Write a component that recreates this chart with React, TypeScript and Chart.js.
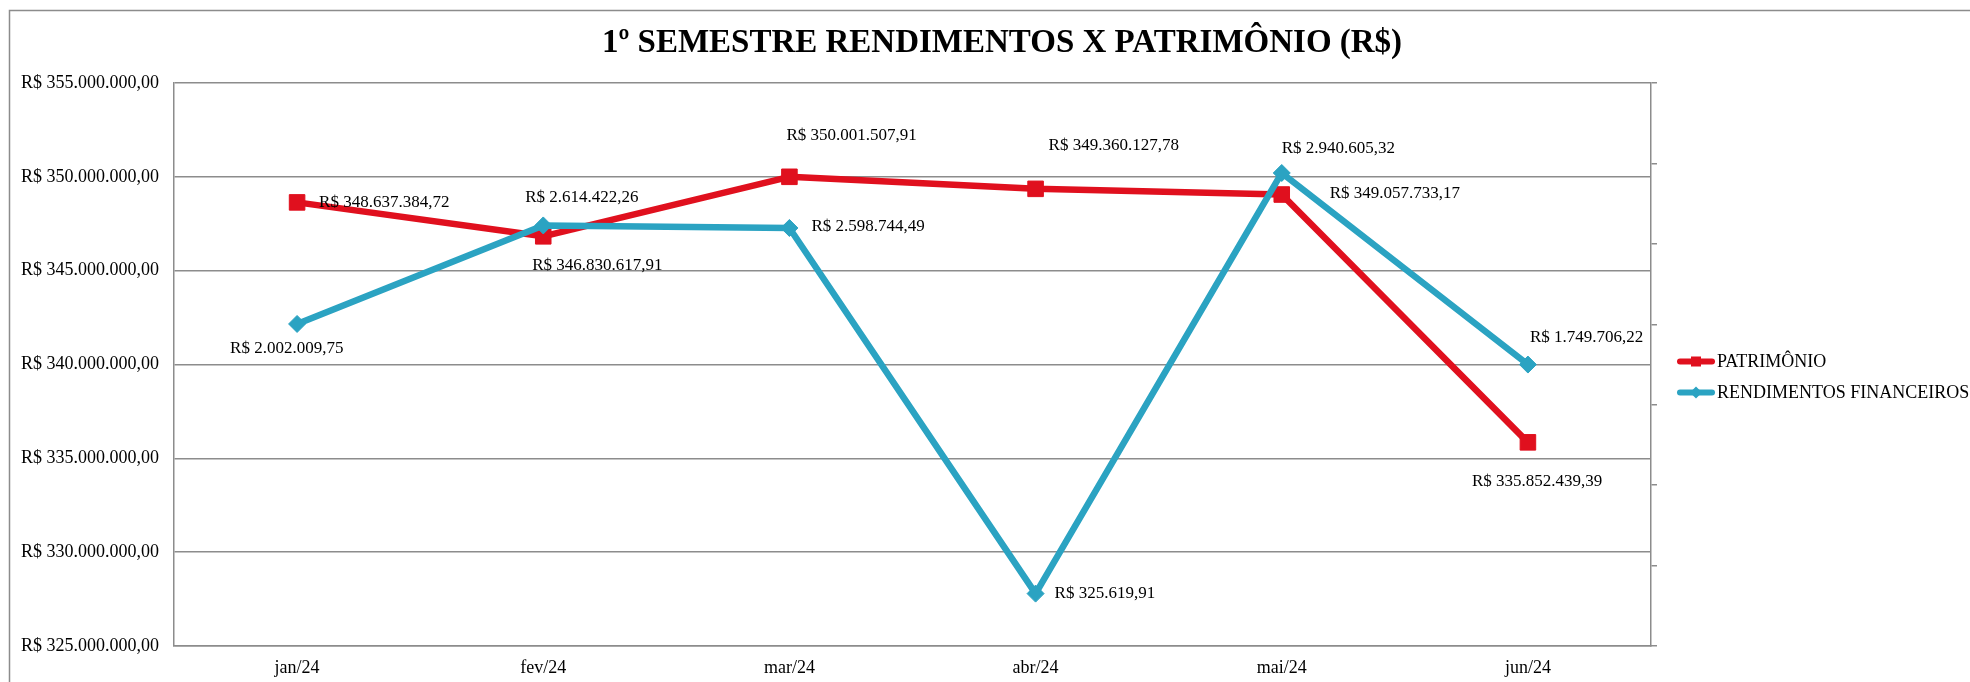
import React, { useEffect, useRef } from 'react';
import { Chart, registerables } from 'chart.js';

Chart.register(...registerables);

const categories = ['jan/24', 'fev/24', 'mar/24', 'abr/24', 'mai/24', 'jun/24'];
const patrimonio = [348637384.72, 346830617.91, 350001507.91, 349360127.78, 349057733.17, 335852439.39];
const rendimentos = [2002009.75, 2614422.26, 2598744.49, 325619.91, 2940605.32, 1749706.22];
const leftTicks = [325000000, 330000000, 335000000, 340000000, 345000000, 350000000, 355000000];
const rightTicks = [0, 500000, 1000000, 1500000, 2000000, 2500000, 3000000, 3500000];
const seriesNames = ['PATRIMÔNIO', 'RENDIMENTOS FINANCEIROS'];
const titleText = '1º SEMESTRE RENDIMENTOS X PATRIMÔNIO (R$)';

// label placement relative to each point: [dx to text left edge, dy to text middle]
const patrimonioLabelOffsets = [[22, 0], [-11, 29], [-3, -41], [13, -43], [48, -1], [-56, 39]];
const rendimentosLabelOffsets = [[-67, 25], [-18, -28], [22, -1], [19, 0], [0, -24], [2, -27]];

const RED = '#E0101E';
const BLUE = '#2BA3C2';
const GRID = '#8c8c8c';
const SERIF = '"Liberation Serif", "Times New Roman", serif';

function brl(v: number): string {
  const fixed = Math.abs(v).toFixed(2);
  const [intPart, dec] = fixed.split('.');
  const withDots = intPart.replace(/\B(?=(\d{3})+(?!\d))/g, '.');
  return 'R$ ' + (v < 0 ? '-' : '') + withDots + ',' + dec;
}

const framePlugin = {
  id: 'frameTitle',
  beforeDraw(chart: any) {
    const ctx = chart.ctx;
    ctx.save();
    ctx.fillStyle = '#ffffff';
    ctx.fillRect(0, 0, chart.width, chart.height);
    ctx.strokeStyle = GRID;
    ctx.lineWidth = 1.5;
    ctx.beginPath();
    ctx.moveTo(9.5, chart.height);
    ctx.lineTo(9.5, 10.5);
    ctx.lineTo(chart.width, 10.5);
    ctx.stroke();
    ctx.fillStyle = '#000';
    ctx.font = 'bold 33px ' + SERIF;
    ctx.textAlign = 'center';
    ctx.textBaseline = 'alphabetic';
    ctx.fillText(titleText, 1002, 52);
    ctx.restore();
  },
};

const labelsPlugin = {
  id: 'pointLabels',
  afterDatasetsDraw(chart: any) {
    const ctx = chart.ctx;
    const offsets = [patrimonioLabelOffsets, rendimentosLabelOffsets];
    ctx.save();
    ctx.font = '17px ' + SERIF;
    ctx.fillStyle = '#000';
    ctx.textAlign = 'left';
    ctx.textBaseline = 'middle';
    chart.data.datasets.forEach((ds: any, di: number) => {
      const meta = chart.getDatasetMeta(di);
      meta.data.forEach((pt: any, i: number) => {
        const [dx, dy] = offsets[di][i];
        ctx.fillText(brl(ds.data[i]), pt.x + dx, pt.y + dy);
      });
    });
    ctx.restore();
  },
};

const legendPlugin = {
  id: 'sideLegend',
  afterDraw(chart: any) {
    const ctx = chart.ctx;
    const area = chart.chartArea;
    const x = area.right + 26;
    const y0 = (area.top + area.bottom) / 2 - 3;
    ctx.save();
    chart.data.datasets.forEach((ds: any, i: number) => {
      const y = y0 + i * 31;
      ctx.strokeStyle = ds.borderColor;
      ctx.lineWidth = 6;
      ctx.lineCap = 'round';
      ctx.beginPath();
      ctx.moveTo(x + 3, y);
      ctx.lineTo(x + 35, y);
      ctx.stroke();
      ctx.fillStyle = ds.borderColor;
      if (ds.pointStyle === 'rect') {
        ctx.fillRect(x + 19 - 5, y - 5, 10, 10);
      } else {
        ctx.beginPath();
        ctx.moveTo(x + 19, y - 6);
        ctx.lineTo(x + 25, y);
        ctx.lineTo(x + 19, y + 6);
        ctx.lineTo(x + 13, y);
        ctx.closePath();
        ctx.fill();
      }
      ctx.fillStyle = '#000';
      ctx.font = '18px ' + SERIF;
      ctx.textAlign = 'left';
      ctx.textBaseline = 'middle';
      ctx.fillText(ds.label, x + 40, y + 1);
    });
    ctx.restore();
  },
};

function ChartView() {
  const ref = useRef<HTMLCanvasElement | null>(null);
  useEffect(() => {
    if (!ref.current) return;
    const chart = new Chart(ref.current, {
      type: 'line',
      data: {
        labels: categories,
        datasets: [
          {
            label: seriesNames[0],
            data: patrimonio,
            yAxisID: 'y',
            borderColor: RED,
            backgroundColor: RED,
            borderWidth: 6.5,
            borderJoinStyle: 'round',
            borderCapStyle: 'round',
            pointStyle: 'rect',
            pointRadius: 11,
            pointBorderWidth: 1,
            pointBackgroundColor: RED,
            pointBorderColor: RED,
            tension: 0,
            order: 1,
          },
          {
            label: seriesNames[1],
            data: rendimentos,
            yAxisID: 'y2',
            borderColor: BLUE,
            backgroundColor: BLUE,
            borderWidth: 6.5,
            borderJoinStyle: 'round',
            borderCapStyle: 'round',
            pointStyle: 'rectRot',
            pointRadius: 8.5,
            pointBorderWidth: 1,
            pointBackgroundColor: BLUE,
            pointBorderColor: BLUE,
            tension: 0,
            order: 0,
          },
        ],
      },
      options: {
        responsive: false,
        animation: false,
        devicePixelRatio: 1,
        layout: { padding: { top: 83, right: 313, bottom: 0, left: 0 } },
        plugins: {
          legend: { display: false },
          title: { display: false },
          tooltip: { enabled: false },
        },
        scales: {
          x: {
            type: 'category',
            offset: true,
            grid: { display: false },
            border: { display: true, color: GRID, width: 1.5 },
            ticks: { color: '#000', padding: 3, font: { family: SERIF, size: 18 } },
            afterFit: (s: any) => { s.height = 36; },
          },
          y: {
            position: 'left',
            min: leftTicks[0],
            max: leftTicks[leftTicks.length - 1],
            afterBuildTicks: (s: any) => { s.ticks = leftTicks.map((value) => ({ value })); },
            afterFit: (s: any) => { s.width = 174; },
            grid: { color: GRID, lineWidth: 1.5, drawTicks: false },
            border: { display: true, color: GRID, width: 1.5 },
            ticks: {
              padding: 15,
              color: '#000',
              font: { family: SERIF, size: 18 },
              callback: (v: any) => brl(Number(v)),
            },
          },
          y2: {
            position: 'right',
            min: rightTicks[0],
            max: rightTicks[rightTicks.length - 1],
            afterBuildTicks: (s: any) => { s.ticks = rightTicks.map((value) => ({ value })); },
            afterFit: (s: any) => { s.width = 6; },
            grid: { drawOnChartArea: false, drawTicks: true, tickLength: 6, color: GRID, lineWidth: 1.5 },
            border: { display: true, color: GRID, width: 1.5 },
            ticks: { display: false },
          },
        },
      },
      plugins: [framePlugin, labelsPlugin, legendPlugin],
    } as any);
    return () => chart.destroy();
  }, []);
  return <canvas ref={ref} width={1970} height={682} style={{ display: 'block', width: 1970, height: 682 }} />;
}

export default function App() {
  return (
    <div style={{ position: 'fixed', left: 0, top: 0, width: 1970, height: 682, background: '#fff' }}>
      <ChartView />
    </div>
  );
}
